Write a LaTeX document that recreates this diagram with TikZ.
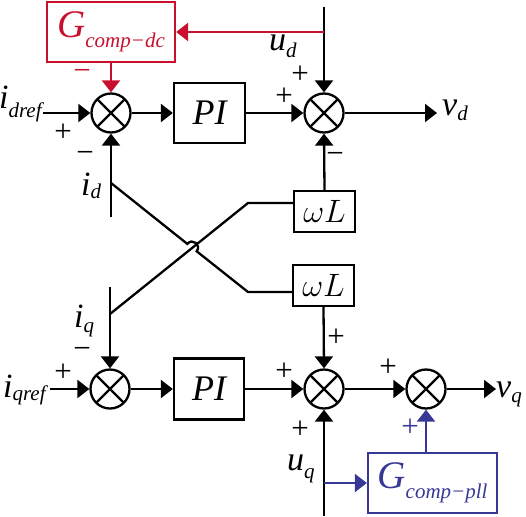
\documentclass[tikz,border=0pt]{standalone}
\usepackage{graphicx}
\usepackage{fontspec}
\setmainfont{Liberation Serif}
\usetikzlibrary{arrows.meta}
\definecolor{cred}{RGB}{200,16,46}
\definecolor{cblue}{RGB}{55,55,150}
\newcommand\bigf{\fontsize{34}{34}\selectfont\itshape}
\newcommand\pif{\fontsize{36}{36}\selectfont\itshape}
\newcommand\gf{\fontsize{39}{39}\selectfont\itshape}
\newcommand\subf{\fontsize{21}{21}\selectfont\itshape}
\newcommand\sgnf{\fontsize{31}{31}\selectfont}
\newcommand\mathf{\fontsize{24.88}{25}\selectfont}
\newcommand\wL{\scalebox{1.3}{$\omega L$}}
\newcommand\lbl[3][-7pt]{{\bigf #2}\raisebox{#1}{\subf #3}}
\newcommand\glbl[1]{{\gf G}\raisebox{-10pt}{\subf #1}}
\begin{document}
\begin{tikzpicture}[x=1pt,y=-1pt,line width=2.3pt,
  >={Triangle[length=12pt,width=18pt]},
  sumnode/.style={circle,draw,line width=2.3pt,minimum size=39pt,inner sep=0pt,
    path picture={\draw[line width=2.2pt]
      (path picture bounding box.north west) -- (path picture bounding box.south east)
      (path picture bounding box.north east) -- (path picture bounding box.south west);}},
  blk/.style={draw,line width=2.3pt,inner sep=0pt,font=\bigf},
  sg/.style={font=\sgnf,inner sep=0pt,anchor=base},
  lab/.style={inner sep=0pt,anchor=base west}]
\useasboundingbox (0,0) rectangle (526,516);
% summing junctions
\node[sumnode] (s1) at (111,113) {};
\node[sumnode] (s2) at (324,113) {};
\node[sumnode] (s3) at (110,389) {};
\node[sumnode] (s4) at (324,389) {};
\node[sumnode] (s5) at (426,389) {};
% blocks
\node[blk,minimum width=71pt,minimum height=60pt,font=\pif] (pi1) at (209.5,113) {PI};
\node[blk,minimum width=70pt,minimum height=61pt,font=\pif] (pi2) at (209,389) {PI};
\node[blk,minimum width=61pt,minimum height=41pt,font=\mathf] (wl1) at (324.5,211.5) {\wL};
\node[blk,minimum width=61pt,minimum height=41pt,font=\mathf] (wl2) at (323.5,285.5) {\wL};
\node[blk,draw=cred,text=cred,minimum width=128pt,minimum height=60pt] (gdc) at (111,32) {\glbl{comp−dc}};
\node[blk,draw=cblue,text=cblue,minimum width=129pt,minimum height=60pt] (gpll) at (432.5,483) {\glbl{comp−pll}};
% coordinates
\coordinate (idin) at (43,113);
\coordinate (vdout) at (437,113);
\coordinate (udtop) at (324,7);
\coordinate (udbr) at (324,32);
\coordinate (idbot) at (111,217);
\coordinate (idbr) at (111,183);
\coordinate (idk) at (248,292);
\coordinate (hopa) at (187.3,243.9);
\coordinate (hopb) at (196.7,251.3);
\coordinate (hopc1) at (192.3,237.6);
\coordinate (hopc2) at (201.7,245.0);
\coordinate (iqtop) at (110,287);
\coordinate (iqbr) at (110,314);
\coordinate (iqk) at (248,203);
\coordinate (iqin) at (50,389);
\coordinate (vqout) at (496,389);
\coordinate (uqbot) at (324,516);
\coordinate (uqbr) at (324,483);
% d-axis
\draw[->] (idin) -- (s1.west);
\draw[->] (s1.east) -- (pi1.west);
\draw[->] (pi1.east) -- (s2.west);
\draw[->] (s2.east) -- (vdout);
\draw[->] (udtop) -- (s2.north);
\draw[->,cred] (udbr) -- (gdc.east);
\draw[->,cred] (gdc.south) -- (s1.north);
\draw[->] (wl1.north) -- (s2.south);
\draw[->] (idbot) -- (s1.south);
\draw (idbr) -- (hopa) .. controls (hopc1) and (hopc2) .. (hopb) -- (idk) -- (idk -| wl2.west);
% q-axis
\draw[->] (iqtop) -- (s3.north);
\draw (iqbr) -- (iqk) -- (iqk -| wl1.west);
\draw[->] (iqin) -- (s3.west);
\draw[->] (s3.east) -- (pi2.west);
\draw[->] (pi2.east) -- (s4.west);
\draw[->] (wl2.south) -- (s4.north);
\draw[->] (s4.east) -- (s5.west);
\draw[->] (s5.east) -- (vqout);
\draw[->] (uqbot) -- (s4.south);
\draw[->,cblue] (uqbr) -- (gpll.west);
\draw[->,cblue] (s5 |- gpll.north) -- (s5.south);
% labels
\node[lab] (l1) at (-2,108) {\lbl[-9pt]{i}{dref}};
\node[lab] (l2) at (441,115) {\lbl[-5pt]{v}{d}};
\node[lab] (l3) at (268,51) {\lbl[-7pt]{u}{d}};
\node[lab] (l4) at (80,195) {\lbl[-3pt]{i}{d}};
\node[lab] (l5) at (73,327) {\lbl[-5pt]{i}{q}};
\node[lab] (l6) at (2,397) {\lbl[-3pt]{i}{qref}};
\node[lab] (l7) at (495,397) {\lbl[-5pt]{v}{q}};
\node[lab] (l8) at (286,470) {\lbl[-8pt]{u}{q}};
% signs (baseline placed below the bar/centre)
\node[sg] (p1) at (63,141) {+};
\node[sg,text=cred] (m1) at (82,81) {−};
\node[sg] (m2) at (85,162) {−};
\node[sg] (p2) at (300,84) {+};
\node[sg] (p3) at (284,106) {+};
\node[sg] (m3) at (335,163) {−};
\node[sg] (m4) at (82,358) {−};
\node[sg] (p4) at (63,381) {+};
\node[sg] (p5) at (336,346) {+};
\node[sg] (p6) at (284,380) {+};
\node[sg] (p7) at (388,376) {+};
\node[sg] (p8) at (300,438) {+};
\node[sg,text=cblue] (p9) at (410,436) {+};
\end{tikzpicture}
\end{document}
